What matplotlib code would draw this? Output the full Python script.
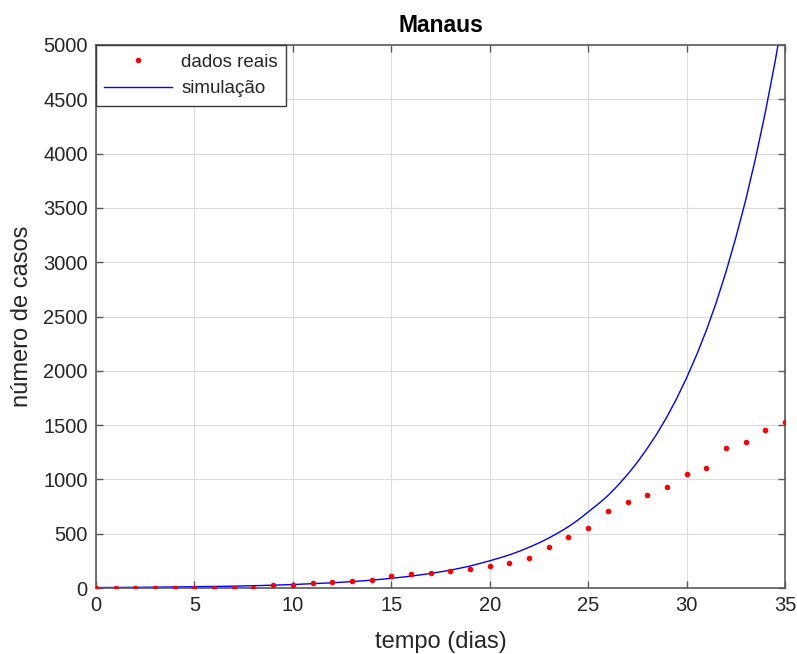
import numpy as np
import matplotlib.pyplot as plt

plt.rcParams['font.family'] = ['Liberation Sans', 'DejaVu Sans']

# casos acumulados observados (um valor por dia)
dias = list(range(36))
dados_reais = [1, 1, 1, 1, 1, 2, 2, 2, 3, 26, 30, 46, 52, 63, 74, 106, 128, 137, 152, 174,
               202, 229, 276, 375, 470, 555, 709, 795, 860, 930, 1050, 1103, 1292, 1347, 1458, 1529]

# saida do modelo: diaria ate o dia 20, depois a cada meio dia
dias_sim = list(range(20)) + list(np.arange(20, 35.01, 0.5))
simulacao = [4, 5, 6, 8, 10, 12, 14, 17, 21, 26, 32, 40, 48, 59, 72, 89, 109, 134, 164, 202,
             250, 277, 305, 338, 375, 415, 460, 510, 565, 628, 700, 772, 850, 943, 1045, 1158,
             1285, 1422, 1575, 1746, 1935, 2142, 2370, 2625, 2910, 3225, 3570, 3955, 4380, 4850, 5370]

x_ticks = list(range(0, 36, 5))
y_ticks = list(range(0, 5001, 500))

fig = plt.figure(figsize=(7.97, 6.54), dpi=100)
ax = fig.add_axes([96 / 797, 1 - 588 / 654, 689 / 797, 543 / 654])

ax.plot(dias, dados_reais, '.', color='red', markersize=6, label='dados reais', zorder=3)
ax.plot(dias_sim, simulacao, '-', color='blue', linewidth=1.0, label='simulação', zorder=2)

ax.set_xlim(0, 35)
ax.set_ylim(0, 5000)
ax.set_xticks(x_ticks)
ax.set_yticks(y_ticks)

grey = '#262626'
ax.grid(True, color='#dcdcdc', linewidth=0.8)
ax.set_axisbelow(True)
for s in ax.spines.values():
    s.set_color('#5a5a5a')
    s.set_linewidth(1.2)
ax.tick_params(direction='in', length=5, width=1, colors='#5a5a5a', top=True, right=True,
               labelsize=14.5, labelcolor=grey, pad=6)

ax.set_xlabel('tempo (dias)', fontsize=17, color=grey, labelpad=11)
ax.set_ylabel('número de casos', fontsize=17, color=grey, labelpad=7)
ax.set_title('Manaus', fontsize=16.5, fontweight='bold', pad=9)

leg = ax.legend(loc='upper left', fontsize=13.5, frameon=True, fancybox=False,
                borderaxespad=0, handlelength=3.6, borderpad=0.45, handletextpad=0.5)
leg.get_frame().set_edgecolor('#3a3a3a')
leg.get_frame().set_linewidth(1.0)
leg.get_frame().set_alpha(1)
for t in leg.get_texts():
    t.set_color(grey)

fig.savefig('out.png', dpi=100, facecolor='white')
